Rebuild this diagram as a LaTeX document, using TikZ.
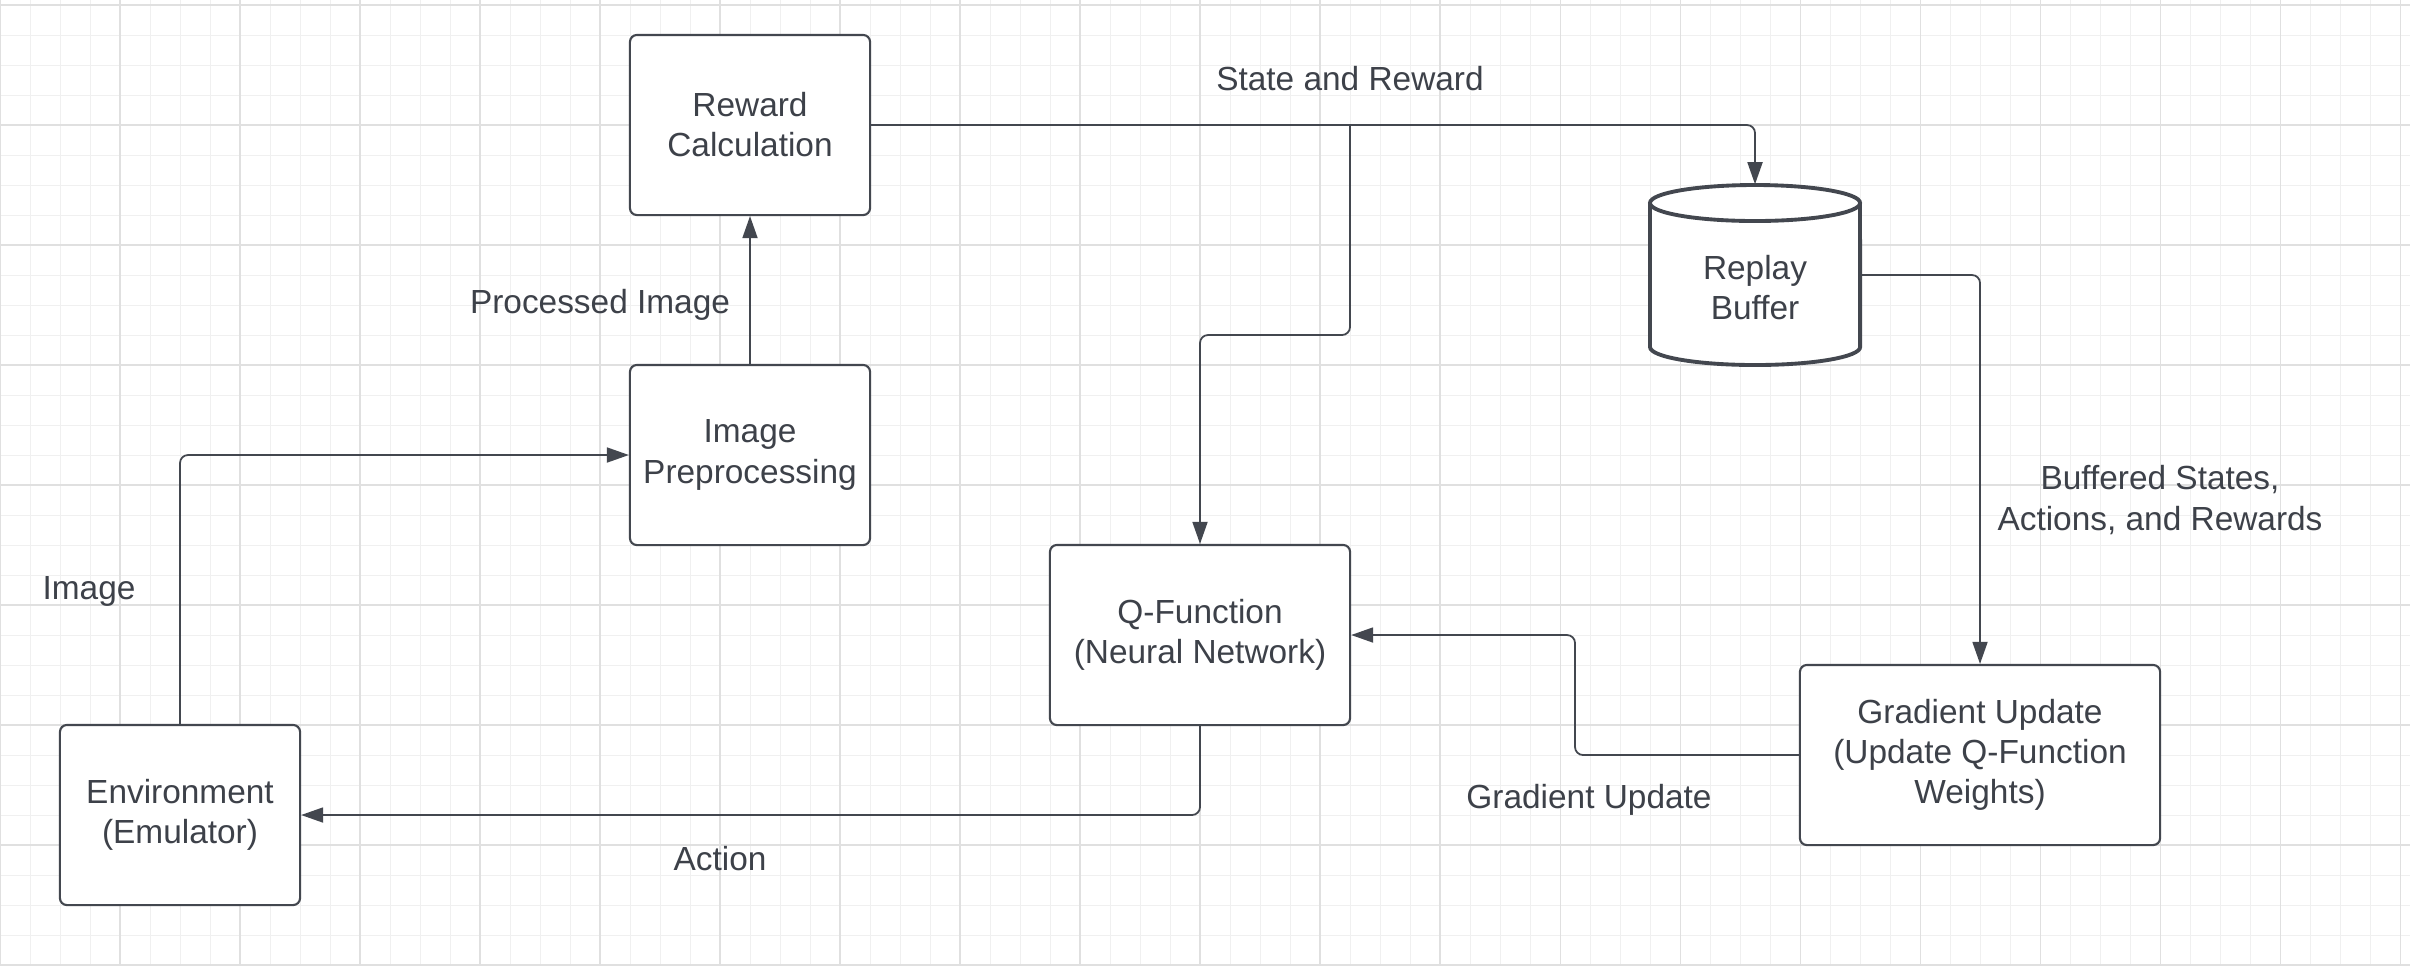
\documentclass[tikz,border=0pt]{standalone}
\usepackage{fontspec}
\setmainfont{Liberation Sans}
\usetikzlibrary{arrows.meta,calc}
\definecolor{textc}{HTML}{3D4149}
\definecolor{linec}{HTML}{43474F}
\definecolor{gridminor}{HTML}{F0F0F0}
\definecolor{gridmajor}{HTML}{E0E0E0}
\tikzset{
  box/.style={draw=linec, line width=0.6pt, rounded corners=0.07cm, fill=white,
    align=center, text=textc, inner sep=0pt,
    font=\fontsize{9.5}{11.4}\selectfont},
  lbl/.style={align=center, text=textc, inner sep=0pt,
    font=\fontsize{9.5}{11.4}\selectfont},
  conn/.style={draw=linec, line width=0.5pt, rounded corners=0.08cm,
    -{Triangle[length=0.22cm,width=0.15cm]}},
  cyl/.style={draw=linec, line width=1.1pt, fill=white},
  minorln/.style={draw=gridminor, line width=0.28pt},
  majorln/.style={draw=gridmajor, line width=0.3pt}
}
\begin{document}
\begin{tikzpicture}[x=0.01cm,y=-0.01cm]
\useasboundingbox[fill=white] (0,0) rectangle (2410,966);
% grid
\foreach \i in {0,30,...,2400} \draw[minorln] (\i,0) -- (\i,966);
\foreach \j in {5,35,...,965} \draw[minorln] (0,\j) -- (2410,\j);
\foreach \i in {0,120,...,2400} \draw[majorln] (\i,0) -- (\i,966);
\foreach \j in {5,125,...,965} \draw[majorln] (0,\j) -- (2410,\j);
% boxes
\node[box, minimum width=2.4cm, minimum height=1.8cm] (rew) at (750,125) {Reward\\Calculation};
\node[box, minimum width=2.4cm, minimum height=1.8cm] (pre) at (750,455) {Image\\Preprocessing};
\node[box, minimum width=3.0cm, minimum height=1.8cm] (q) at (1200,635) {Q-Function\\(Neural Network)};
\node[box, minimum width=2.4cm, minimum height=1.8cm] (env) at (180,815) {Environment\\(Emulator)};
\node[box, minimum width=3.6cm, minimum height=1.8cm] (grad) at (1980,755) {Gradient Update\\(Update Q-Function\\Weights)};
% replay buffer cylinder
\node[minimum width=2.1cm, minimum height=1.8cm, inner sep=0pt] (rb) at (1755,275) {};
\path[fill=white] (1650,203) -- (1650,347) arc[start angle=180, end angle=360, x radius=1.05cm, y radius=0.18cm] -- (1860,203) -- cycle;
\draw[cyl] (1650,203) -- (1650,347) arc[start angle=180, end angle=360, x radius=1.05cm, y radius=0.18cm] -- (1860,203);
\draw[cyl] (1755,203) ellipse[x radius=1.05cm, y radius=0.18cm];
\node[lbl] (rbt) at (1755,288) {Replay\\Buffer};
% coordinates
\coordinate (split) at (1350,125);
\coordinate (bend) at (1350,335);
\coordinate (gmid) at (1575,755);
% connectors
\draw[conn] (env.north) |- (pre.west);
\draw[conn] (pre.north) -- (rew.south);
\draw[conn] (rew.east) -| (rb.north);
\draw[conn] (split) -- (bend) -| (q.north);
\draw[conn] (rb.east) -| (grad.north);
\draw[conn] (grad.west) -- (gmid) |- (q.east);
\draw[conn] (q.south) |- (env.east);
% labels
\node[lbl] (l1) at (1350,79) {State and Reward};
\node[lbl] (l2) at (600,305) {Processed Image};
\node[lbl] (l3) at (89,591) {Image};
\node[lbl] (l4) at (720,859) {Action};
\node[lbl] (l5) at (1589,800) {Gradient Update};
\node[lbl] (l6) at (2160,500) {Buffered States,\\Actions, and Rewards};
\end{tikzpicture}
\end{document}
